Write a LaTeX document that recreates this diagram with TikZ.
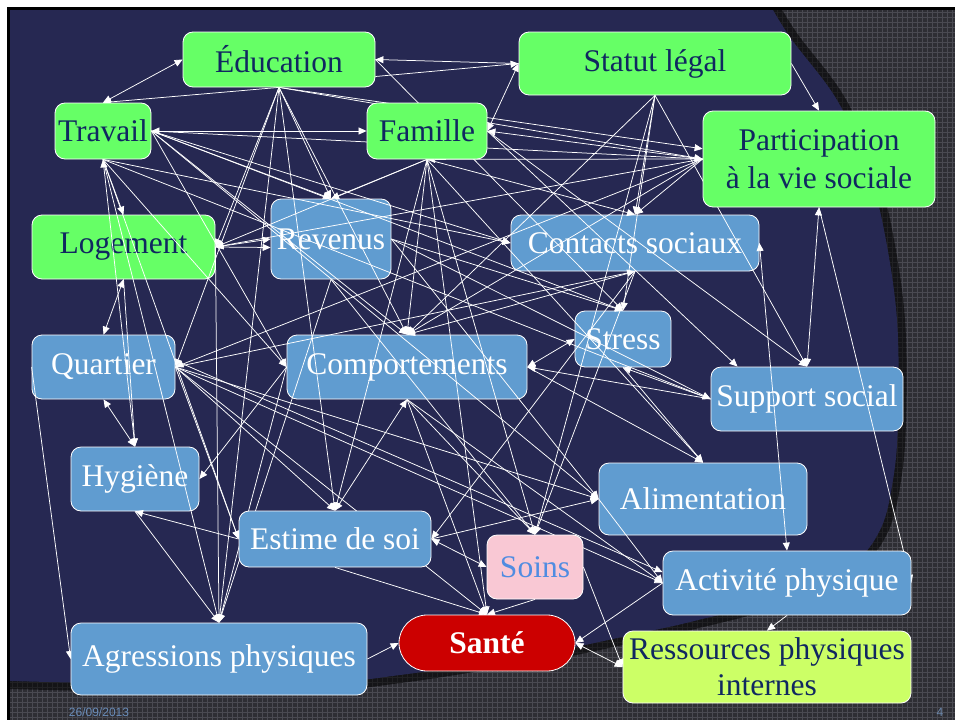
\documentclass[tikz,border=0pt]{standalone}
\usepackage{fontspec}
\setmainfont{Liberation Serif}
\newfontfamily\datefont{Liberation Sans}
\usetikzlibrary{arrows.meta}

\definecolor{navy}{RGB}{38,40,82}
\definecolor{patbase}{RGB}{46,46,52}
\definecolor{patline}{RGB}{74,74,82}
\definecolor{boxgreen}{RGB}{102,255,102}
\definecolor{boxblue}{RGB}{96,156,208}
\definecolor{boxpink}{RGB}{249,200,212}
\definecolor{boxred}{RGB}{204,0,0}
\definecolor{boxlime}{RGB}{204,255,102}
\definecolor{inkdark}{RGB}{16,40,96}
\definecolor{inkblue}{RGB}{80,140,225}
\definecolor{datecol}{RGB}{105,140,185}

\pgfdeclarelayer{back}
\pgfdeclarelayer{under}
\pgfdeclarelayer{over}
\pgfsetlayers{back,under,main,over}

\begin{document}
\begin{tikzpicture}[x=1pt,y=-1pt,
  box/.style={rectangle, rounded corners=10pt, draw=white, line width=0.8pt,
              inner sep=0pt, align=center, font=\fontsize{31.5}{38}\selectfont},
  gbox/.style={box, fill=boxgreen, text=inkdark},
  bbox/.style={box, fill=boxblue, text=white},
  ar/.style={draw=white, line width=0.75pt, -{Triangle[length=8pt,width=7pt]}},
  ab/.style={draw=white, line width=0.75pt,
             {Triangle[length=8pt,width=7pt]}-{Triangle[length=8pt,width=7pt]}},
  foot/.style={font=\datefont\fontsize{12}{14}\selectfont, inner sep=0pt}
]
\useasboundingbox (0,0) rectangle (955,720);

% ---------- slide background ----------
\begin{pgfonlayer}{back}
\fill[white] (0,0) rectangle (955,720);
\fill[black] (7,7) rectangle (955,720);
\begin{scope}
  \clip (10,10) rectangle (955,720);
  \fill[patbase] (10,10) rectangle (955,720);
  \foreach \gx in {12,17,...,955} \draw[patline, line width=0.7pt] (\gx,10) -- (\gx,720);
  \foreach \gy in {12,17,...,720} \draw[patline, line width=0.7pt] (10,\gy) -- (955,\gy);
  % dark rim shadow
  \draw[black, opacity=0.55, line width=16pt]
    plot[smooth, tension=0.6] coordinates {(773,10) (792,40) (837,100) (867,167) (884,230)
      (897,320) (898,420) (893,480) (880,530) (850,565) (780,598) (690,622) (640,633)
      (560,650) (480,663) (400,675) (320,683) (160,684) (10,681)};
  % navy disc
  \fill[navy] (10,10) -- (773,10) --
    plot[smooth, tension=0.6] coordinates {(773,10) (792,40) (837,100) (867,167) (884,230)
      (897,320) (898,420) (893,480) (880,530) (850,565) (780,598) (690,622) (640,633)
      (560,650) (480,663) (400,675) (320,683) (160,684) (10,681)} -- cycle;
\end{scope}
\node[foot, text=datecol] (date) at (99,712) {26/09/2013};
\node[foot, text=datecol!80!gray] (pagenum) at (940,712) {4};
\end{pgfonlayer}

% ---------- boxes that the arrows run over ----------
\begin{pgfonlayer}{under}
\node[gbox, minimum width=183pt, minimum height=64pt] (logement) at (123.5,247) {Logement};
\node[bbox, minimum width=120pt, minimum height=80pt] (revenus) at (331,239) {Revenus};
\node[bbox, minimum width=248pt, minimum height=56pt] (contacts) at (635,243) {Contacts sociaux};
\node[bbox, minimum width=96pt, minimum height=56pt] (stress) at (623,339) {Stress};
\node[bbox, minimum width=143pt, minimum height=64pt] (quartier) at (103.5,367) {Quartier};
\node[bbox, minimum width=240pt, minimum height=64pt] (comport) at (407,367) {Comportements};
\node[bbox, minimum width=192pt, minimum height=64pt] (support) at (807,399) {Support social};
\node[bbox, minimum width=128pt, minimum height=64pt] (hygiene) at (135,479) {Hygiène};
\node[bbox, minimum width=208pt, minimum height=72pt] (aliment) at (703,499) {Alimentation};
\end{pgfonlayer}

% ---------- boxes drawn above the arrows ----------
\begin{pgfonlayer}{over}
\node[gbox, minimum width=192pt, minimum height=55pt] (edu) at (279,59.5) {Éducation};
\node[gbox, minimum width=272pt, minimum height=63pt] (statut) at (655,63.5) {Statut légal};
\node[gbox, minimum width=96pt, minimum height=56pt] (travail) at (103,131) {Travail};
\node[gbox, minimum width=120pt, minimum height=56pt] (famille) at (427,131) {Famille};
\node[gbox, minimum width=232pt, minimum height=96pt] (partic) at (819,159)
  {Participation\\à la vie sociale};
\node[bbox, minimum width=192pt, minimum height=56pt] (estime) at (335,539) {Estime de soi};
\node[box, fill=boxpink, text=inkblue, minimum width=96pt, minimum height=64pt] (soins) at (535,567) {Soins};
\node[bbox, minimum width=248pt, minimum height=64pt] (activite) at (787,583) {Activité physique};
\node[bbox, minimum width=296pt, minimum height=72pt] (agress) at (219,659) {Agressions physiques};
\node[box, fill=boxred, text=white, rounded corners=28pt, minimum width=176pt, minimum height=56pt,
      font=\fontsize{31.5}{38}\selectfont\bfseries] (sante) at (487,643) {Santé};
\node[box, fill=boxlime, text=inkdark, minimum width=288pt, minimum height=72pt,
      font=\fontsize{31.5}{36}\selectfont] (ressources) at (767,667) {Ressources physiques\\internes};
\end{pgfonlayer}

% ---------- influences ----------
% Éducation
\draw[ab] (travail.north) -- (edu.west);
\draw[ar] (edu.south) -- (travail.north);
\draw[ar] (statut.west) -- (edu.east);
\draw[ar] (edu.-10) -- (statut.west);
\draw[ar] (edu.south) -- (partic.west);
\draw[ar] (edu.south) -- (partic.175);
\draw[ar] (edu.south) -- (revenus.north);
\draw[ar] (edu.south) -- (comport.north);
\draw[ar] (edu.south) -- (logement.east);
\draw[ar] (edu.south) -- (quartier.east);
\draw[ar] (edu.south) -- (estime.north);
\draw[ar] (edu.south) -- (agress.north);
\draw[ar] (edu.east) -- (stress.north);

% Travail
\draw[ab] (travail.east) -- (famille.west);
\draw[ar] (travail.east) -- (partic.west);
\draw[ar] (travail.east) -- (revenus.north);
\draw[ar] (travail.east) -- (comport.north);
\draw[ar] (travail.east) -- (contacts.west);
\draw[ar] (travail.east) -- (stress.north);
\draw[ar] (travail.east) -- (comport.west);
\draw[ar] (travail.east) -- (aliment.west);
\draw[ar] (travail.south) -- (logement.north);
\draw[ab] (travail.south) -- (hygiene.north);
\draw[ar] (travail.south) -- (agress.north);
\draw[ar] (travail.south) -- (estime.west);
\draw[ar] (travail.south) -- (contacts.west);
\draw[ar] (travail.south) -- (support.west);
\draw[ar] (travail.south) -- (comport.west);

% Famille
\draw[ab] (famille.east) -- (statut.west);
\draw[ar] (partic.west) -- (famille.east);
\draw[ar] (partic.west) -- (famille.south);
\draw[ar] (famille.east) -- (support.155);
\draw[ar] (famille.east) -- (support.north);
\draw[ar] (famille.south) -- (contacts.north);
\draw[ar] (famille.south) -- (comport.north);
\draw[ar] (famille.south) -- (estime.north);
\draw[ar] (famille.south) -- (soins.north);
\draw[ar] (famille.south) -- (sante.north);
\draw[ar] (famille.south) -- (aliment.north);
\draw[ar] (famille.south) -- (revenus.north);
\draw[ar] (famille.south) -- (logement.east);

% Statut légal
\draw[ar] (statut.east) -- (partic.north);
\draw[ar] (statut.south) -- (stress.north);
\draw[ar] (statut.south) -- (support.north);
\draw[ar] (statut.south) -- (contacts.north);
\draw[ar] (statut.south) -- (soins.north);
\draw[ar] (statut.south) -- (comport.north);

% Participation
\draw[ar] (partic.west) -- (contacts.north);
\draw[ar] (partic.west) -- (comport.north);
\draw[ar] (partic.west) -- (logement.east);
\draw[ar] (partic.west) -- (quartier.east);
\draw[ab] (partic.south) -- (support.north);
\draw[ar] (partic.south) -- (activite.east);

% Logement
\draw[ab] (logement.east) -- (revenus.west);
\draw[ar] (logement.east) -- (revenus.188);
\draw[ab] (logement.south) -- (quartier.north);
\draw[ar] (logement.south) -- (hygiene.north);
\draw[ar] (logement.east) -- (agress.north);

% Revenus
\draw[ar] (revenus.east) -- (stress.north);
\draw[ar] (revenus.east) -- (support.west);
\draw[ar] (revenus.east) -- (aliment.west);
\draw[ar] (revenus.south) -- (agress.north);
\draw[ar] (revenus.south) -- (soins.north);

% Contacts sociaux
\draw[ar] (contacts.south) -- (comport.north);
\draw[ar] (quartier.east) -- (contacts.south);
\draw[ar] (contacts.south) -- (estime.east);
\draw[ar] (contacts.south) -- (soins.north);
\draw[ab] (contacts.east) -- (activite.north);

% Stress, support social
\draw[ab] (stress.west) -- (comport.east);
\draw[ar] (support.west) -- (stress.south);
\draw[ar] (support.west) -- (comport.east);
\draw[ar] (stress.south) -- (aliment.north);

% Comportements
\draw[ab] (comport.south) -- (estime.north);
\draw[ar] (comport.south) -- (sante.north);
\draw[ar] (comport.south) -- (soins.north);
\draw[ar] (comport.south) -- (activite.west);
\draw[ar] (comport.east) -- (aliment.north);
\draw[ar] (comport.west) -- (agress.north);
\draw[ar] (comport.west) -- (hygiene.east);

% Quartier
\draw[ar] (quartier.east) -- (activite.west);
\draw[ar] (quartier.5) -- (activite.175);
\draw[ar] (quartier.east) -- (aliment.west);
\draw[ar] (quartier.east) -- (estime.north);
\draw[ar] (quartier.east) -- (estime.west);
\draw[ar] (quartier.east) -- (sante.north);
\draw[ab] (quartier.south) -- (hygiene.north);
\draw[ar] (quartier.west) -- (agress.west);

% Hygiène, estime de soi, soins
\draw[ar] (estime.west) -- (hygiene.south);
\draw[ar] (hygiene.south) -- (agress.north);
\draw[ab] (estime.east) -- (soins.west);
\draw[ar] (estime.east) -- (aliment.west);
\draw[ar] (estime.south) -- (sante.north);
\draw[ar] (soins.south) -- (sante.north);
\draw[ar] (soins.east) -- (ressources.west);

% Alimentation, activité physique, agressions, santé
\draw[ar] (aliment.west) -- (activite.west);
\draw[ar] (activite.west) -- (sante.east);
\draw[ar] (activite.south) -- (ressources.north);
\draw[ar] (agress.east) -- (sante.west);
\draw[ab] (sante.east) -- (ressources.west);
\end{tikzpicture}
\end{document}
